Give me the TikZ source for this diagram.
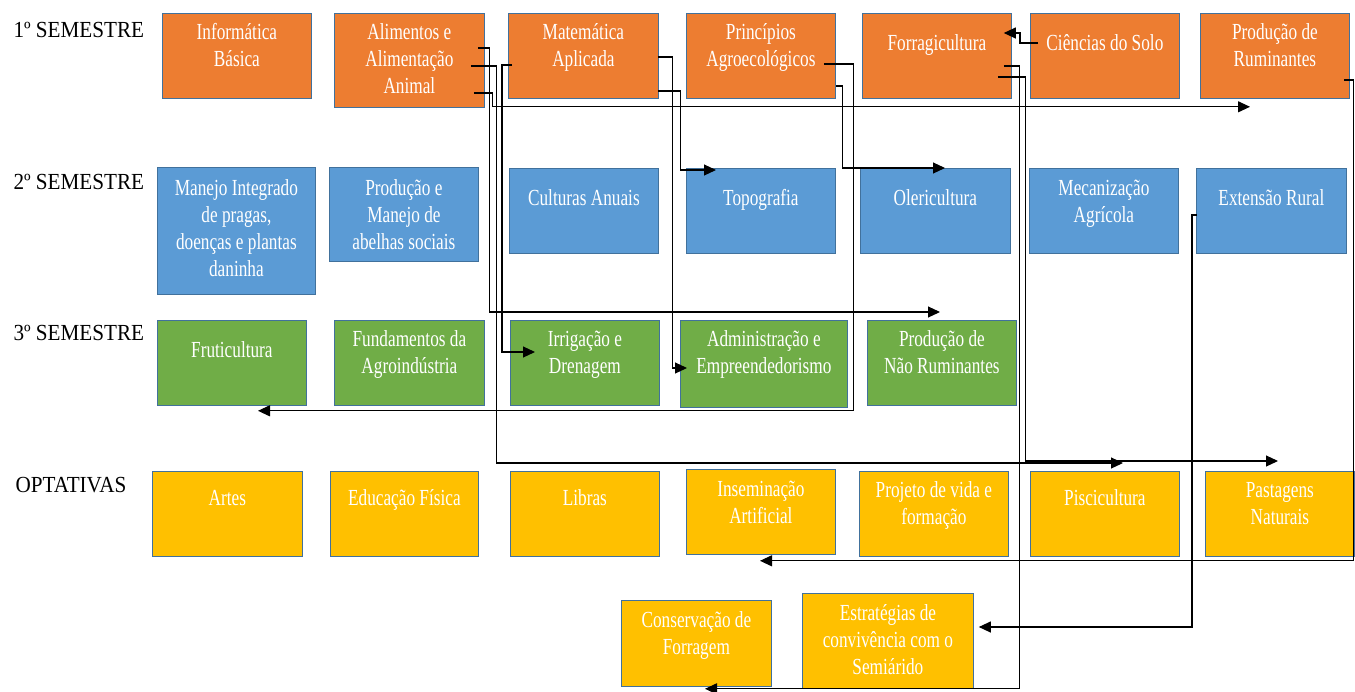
\documentclass[tikz,border=0pt]{standalone}
\usepackage{fontspec}
\newfontfamily\boxfont[FakeStretch=0.75]{Liberation Serif}
\newfontfamily\semfont[FakeStretch=0.92]{Liberation Serif}
\usetikzlibrary{arrows.meta}
\definecolor{orangeA}{HTML}{ED7D31}
\definecolor{blueA}{HTML}{5B9BD5}
\definecolor{greenA}{HTML}{70AD47}
\definecolor{yellowA}{HTML}{FFC000}
\definecolor{boxline}{HTML}{41719C}

\begin{document}
\begin{tikzpicture}[x=1pt, y=-1pt]
  \tikzstyle{course}=[rectangle, draw=boxline, line width=0.8pt, text=white,
    font=\boxfont\fontsize{23}{27}\selectfont, align=flush center, inner sep=0pt,
    anchor=north west, text width=149pt, text height=26pt, text depth=59pt]
  \tikzstyle{oneline}=[text height=37pt, text depth=48pt]
  \tikzstyle{optline}=[text height=34pt, text depth=51pt]
  \tikzstyle{sem}=[anchor=west, font=\semfont\fontsize{23}{27}\selectfont]
  \tikzstyle{link}=[-{Triangle[length=12pt,width=11pt]}, line width=1.1pt]
  \useasboundingbox (0,0) rectangle (1355,691);

  \node[sem] (s1) at (10,30) {1º SEMESTRE};
  \node[sem] (s2) at (10,182) {2º SEMESTRE};
  \node[sem] (s3) at (10,333) {3º SEMESTRE};
  \node[sem] (opt) at (12,485) {OPTATIVAS};

  \node[course, fill=orangeA] (info) at (162,13) {Informática\\Básica};
  \node[course, fill=orangeA, text width=150pt, text depth=68pt] (alim) at (334,13) {Alimentos e\\Alimentação\\Animal};
  \node[course, fill=orangeA, text width=150pt] (mat) at (508,13) {Matemática\\Aplicada};
  \node[course, fill=orangeA] (princ) at (686,13) {Princípios\\Agroecológicos};
  \node[course, fill=orangeA, oneline] (forr) at (862,13) {Forragicultura};
  \node[course, fill=orangeA, oneline] (solo) at (1030,13) {Ciências do Solo};
  \node[course, fill=orangeA] (rumin) at (1200,13) {Produção de\\Ruminantes};

  \node[course, fill=blueA, text width=158pt, text height=28pt, text depth=99pt] (manejo) at (157,167) {Manejo Integrado\\de pragas,\\doenças e plantas\\daninha};
  \node[course, fill=blueA, text height=28pt, text depth=66pt] (abelha) at (329,167) {Produção e\\Manejo de\\abelhas sociais};
  \node[course, fill=blueA, oneline] (cult) at (509,168) {Culturas Anuais};
  \node[course, fill=blueA, oneline] (topo) at (686,168) {Topografia};
  \node[course, fill=blueA, oneline, text width=150pt] (oleri) at (860,168) {Olericultura};
  \node[course, fill=blueA, text height=27pt, text depth=58pt] (mecan) at (1029,168) {Mecanização\\Agrícola};
  \node[course, fill=blueA, oneline, text width=150pt] (ext) at (1196,168) {Extensão Rural};

  \node[course, fill=greenA, oneline] (fruti) at (157,320) {Fruticultura};
  \node[course, fill=greenA, text width=150pt] (agro) at (334,320) {Fundamentos da\\Agroindústria};
  \node[course, fill=greenA] (irrig) at (510,320) {Irrigação e\\Drenagem};
  \node[course, fill=greenA, text width=167pt, text depth=61pt] (admin) at (680,320) {Administração e\\Empreendedorismo};
  \node[course, fill=greenA] (naorum) at (867,320) {Produção de\\Não Ruminantes};

  \node[course, fill=yellowA, optline, text width=150pt] (artes) at (152,471) {Artes};
  \node[course, fill=yellowA, optline, text width=148pt] (edfis) at (330,471) {Educação Física};
  \node[course, fill=yellowA, optline] (libras) at (510,471) {Libras};
  \node[course, fill=yellowA, text height=27pt, text depth=58pt] (insem) at (686,469) {Inseminação\\Artificial};
  \node[course, fill=yellowA] (proj) at (859,471) {Projeto de vida e\\formação};
  \node[course, fill=yellowA, optline] (pisci) at (1030,471) {Piscicultura};
  \node[course, fill=yellowA] (pastag) at (1205,471) {Pastagens\\Naturais};

  \node[course, fill=yellowA, text width=150pt, text height=27pt, text depth=59pt] (conserv) at (621,600) {Conservação de\\Forragem};
  \node[course, fill=yellowA, text width=171pt, text height=27pt, text depth=68pt] (estrat) at (802,593) {Estratégias de\\convivência com o\\Semiárido};

  \draw[link] ([shift={(-11,80)}]alim.north east) -- ++(19,0) |- ([shift={(50,8)}]rumin.south west);
  \draw[link] ([shift={(-7,35)}]alim.north east) -- ++(12,0) |- ([shift={(73,-8)}]naorum.north west);
  \draw[link] ([shift={(-14,53)}]alim.north east) -- ++(26,0) |- ([shift={(93,-8)}]pisci.north west);
  \draw[link] ([shift={(4,52)}]mat.north west) -- ++(-10,0) |- ([shift={(25,32)}]irrig.north west);
  \draw[link] ([shift={(-1,44)}]mat.north east) -- ++(15,0) |- ([shift={(7,48)}]admin.north west);
  \draw[link] ([shift={(-1,78)}]mat.north east) -- ++(23,0) |- ([shift={(30,2)}]topo.north west);
  \draw[link] ([shift={(0,73)}]princ.north east) -- ++(7,0) |- ([shift={(85,0)}]oleri.north west);
  \draw[link] ([shift={(-12,51)}]princ.north east) -- ++(30,0) |- ([shift={(101,5)}]fruti.south west);
  \draw[link] ([shift={(8,30)}]solo.north west) -- ++(-18,0) |- ([shift={(-8,20)}]forr.north east);
  \draw[link] ([shift={(-14,64)}]forr.north east) -- ++(28,0) |- ([shift={(73,-10)}]pastag.north west);
  \draw[link] ([shift={(-8,53)}]forr.north east) -- ++(16,0) |- ([shift={(84,2)}]conserv.south west);
  \draw[link] ([shift={(-6,67)}]rumin.north east) -- ++(10,0) |- ([shift={(74,6)}]insem.south west);
  \draw[link] ([shift={(1,47)}]ext.north west) -- ++(-5,0) |- ([shift={(5,34)}]estrat.north east);
\end{tikzpicture}
\end{document}
